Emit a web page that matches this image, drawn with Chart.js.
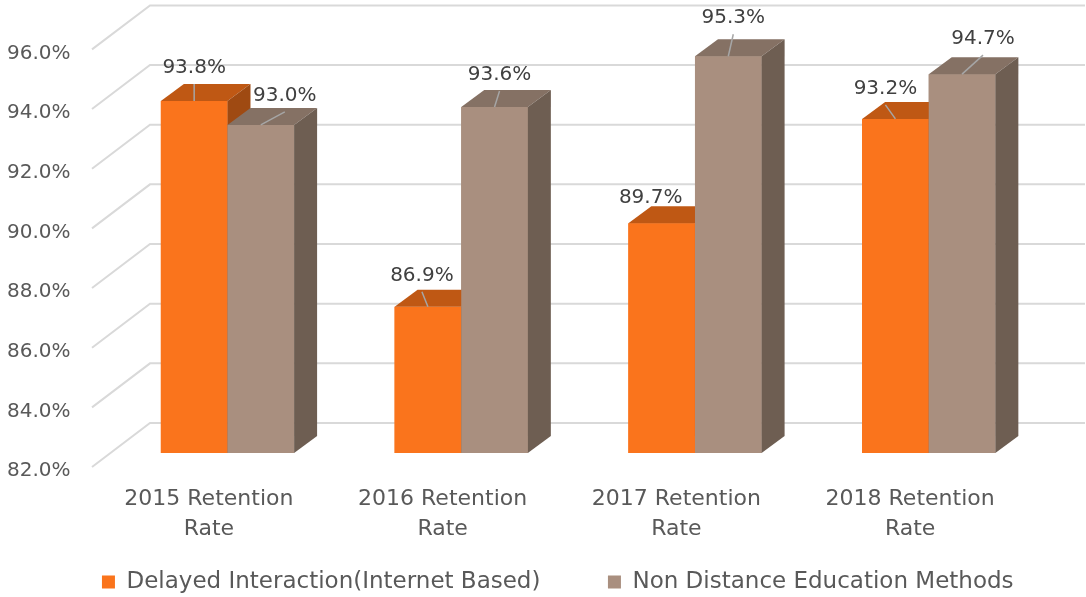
<!DOCTYPE html>
<html>
<head>
<meta charset="utf-8">
<script src="https://cdn.jsdelivr.net/npm/chart.js@4.4.1/dist/chart.umd.min.js"></script>
<style>
  html, body { margin: 0; padding: 0; background: #fff; }
  #wrap { width: 1086px; height: 597px; }
</style>
</head>
<body>
<div id="wrap"><canvas id="myChart"></canvas></div>
<script>
//------ data
const categories = [['2015 Retention', 'Rate'], ['2016 Retention', 'Rate'], ['2017 Retention', 'Rate'], ['2018 Retention', 'Rate']];
const seriesNames = ['Delayed Interaction(Internet Based)', 'Non Distance Education Methods'];
const delayedValues = [93.8, 86.9, 89.7, 93.2];
const nonDistanceValues = [93.0, 93.6, 95.3, 94.7];
const yTicks = [82, 84, 86, 88, 90, 92, 94, 96];

//------ style
const FONT = 'DejaVu Sans';
const faceColors = [
  { front: '#fa741c', top: '#bf5814', side: '#9f4a12' },
  { front: '#a98f7f', top: '#857164', side: '#6e5e52' }
];
const depth = { dx: 23, dy: -17 };        // profondeur des barres
const wallBack = { dx: 39.4, dy: -30 };   // mur du fond
const wallFront = { dx: -18.6, dy: 14 };  // plan avant (axe)
// decalage des etiquettes (excel les a deplacees a la main)
const labelShift = [
  [[0, -33], [-6, -31], [-11, -26], [-10, -30]],
  [[24, -29], [5, -32], [5, -38], [21, -35]]
];
const plotLeft = 110.6, plotRight = 40.4, legendLeft = 29.5;

const bars3d = {
  id: 'bars3d',
  beforeDatasetsDraw(chart) {
    const { ctx, chartArea: { left, right }, scales: { y } } = chart;
    ctx.save();
    ctx.strokeStyle = '#d9d9d9';
    ctx.lineWidth = 2;
    yTicks.forEach(v => {
      const py = y.getPixelForValue(v);
      ctx.beginPath();
      ctx.moveTo(left + wallFront.dx, py + wallFront.dy);
      ctx.lineTo(left + wallBack.dx, py + wallBack.dy);
      ctx.lineTo(right + wallBack.dx, py + wallBack.dy);
      ctx.stroke();
    });
    ctx.restore();
  },
  afterDatasetsDraw(chart) {
    const { ctx } = chart;
    const n = chart.data.labels.length;
    ctx.save();
    for (let i = 0; i < n; i++) {
      chart.data.datasets.forEach((ds, d) => {
        const bar = chart.getDatasetMeta(d).data[i];
        const { x, y, base, width } = bar.getProps(['x', 'y', 'base', 'width'], true);
        const x0 = x - width / 2, x1 = x + width / 2;
        const c = faceColors[d];
        ctx.fillStyle = c.front;
        ctx.fillRect(x0, y, width, base - y);
        ctx.fillStyle = c.top;
        ctx.beginPath();
        ctx.moveTo(x0, y);
        ctx.lineTo(x0 + depth.dx, y + depth.dy);
        ctx.lineTo(x1 + depth.dx, y + depth.dy);
        ctx.lineTo(x1, y);
        ctx.closePath();
        ctx.fill();
        ctx.fillStyle = c.side;
        ctx.beginPath();
        ctx.moveTo(x1, y);
        ctx.lineTo(x1 + depth.dx, y + depth.dy);
        ctx.lineTo(x1 + depth.dx, base + depth.dy);
        ctx.lineTo(x1, base);
        ctx.closePath();
        ctx.fill();
      });
    }
    // etiquettes + lignes de repere
    ctx.font = '20px "' + FONT + '"';
    ctx.textAlign = 'center';
    ctx.textBaseline = 'middle';
    chart.data.datasets.forEach((ds, d) => {
      chart.getDatasetMeta(d).data.forEach((bar, i) => {
        const { x, y } = bar.getProps(['x', 'y'], true);
        const [sx, sy] = labelShift[d][i];
        const lx = x + sx, ly = y + sy;
        if (sy < -28) {
          ctx.strokeStyle = '#a6a6a6';
          ctx.lineWidth = 1.5;
          ctx.beginPath();
          ctx.moveTo(lx, ly + 16);
          ctx.lineTo(x, y);
          ctx.stroke();
        }
        ctx.fillStyle = '#404040';
        ctx.fillText(ds.data[i].toFixed(1) + '%', lx, ly);
      });
    });
    ctx.restore();
  }
};

// pas de marge auto + pas de clip des labels
const fixAxis = a => {
  a.paddingTop = 0; a.paddingBottom = 0; a.paddingLeft = 0; a.paddingRight = 0;
  a._computeLabelArea = () => undefined;
};

const ctx = document.getElementById('myChart');

new Chart(ctx, {
  type: 'bar',
  data: {
    labels: categories,
    datasets: [
      { label: seriesNames[0], data: delayedValues, backgroundColor: faceColors[0].front, base: yTicks[0] },
      { label: seriesNames[1], data: nonDistanceValues, backgroundColor: faceColors[1].front, base: yTicks[0] }
    ]
  },
  options: {
    responsive: true,
    maintainAspectRatio: false,
    animation: false,
    devicePixelRatio: 1,
    categoryPercentage: 0.57,
    barPercentage: 1.0,
    layout: { padding: { top: 35.4, right: 0, left: legendLeft, bottom: -6.5 } },
    scales: {
      x: {
        grid: { display: false, drawTicks: false },
        border: { display: false },
        ticks: {
          labelOffset: -18.6,
          padding: 31,
          color: '#595959',
          font: { family: FONT, size: 22, lineHeight: 1.36 },
          maxRotation: 0,
          autoSkip: false
        },
        afterFit: a => { fixAxis(a); a.paddingRight = plotRight; a.height = 50; }
      },
      y: {
        min: 82,
        max: 96,
        grid: { display: false, drawTicks: false },
        border: { display: false },
        ticks: {
          stepSize: 2,
          labelOffset: 18,
          padding: 40,
          color: '#595959',
          font: { family: FONT, size: 20 },
          callback: v => v.toFixed(1) + '%'
        },
        afterFit: a => { fixAxis(a); a.width = plotLeft - legendLeft; }
      }
    },
    plugins: {
      legend: {
        position: 'bottom',
        labels: {
          boxWidth: 13,
          boxHeight: 13,
          padding: 67.5,
          color: '#595959',
          font: { family: FONT, size: 23 }
        }
      },
      tooltip: { enabled: false }
    }
  },
  plugins: [bars3d]
});
</script>
</body>
</html>
